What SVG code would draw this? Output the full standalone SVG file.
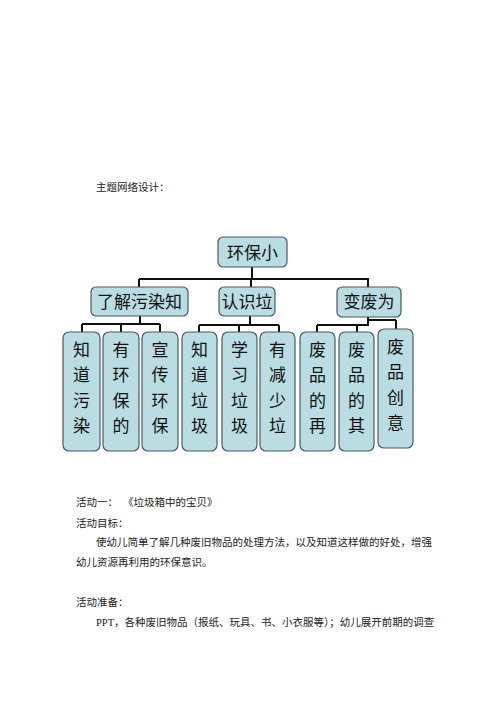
<svg xmlns="http://www.w3.org/2000/svg" width="500" height="707" viewBox="0 0 500 707">
<style>
.bg{fill:#ffffff}
.box{fill:#b9dde2;stroke:#4d5a5e;stroke-width:1.2}
.nt{font-family:"Noto Sans CJK SC","Noto Sans",sans-serif;font-size:17px;fill:#111;text-anchor:middle}
.vt{font-family:"Noto Sans CJK SC","Noto Sans",sans-serif;font-size:17px;fill:#111;text-anchor:middle}
.conn{fill:none;stroke:#111;stroke-width:2}
.body{font-family:"Liberation Serif","Noto Sans CJK SC",serif;font-size:10.5px;fill:#222}
</style>
<rect class="bg" x="0" y="0" width="500" height="707"/>
<text class="body" x="96" y="191">主题网络设计：</text>

<g id="connectors">
<path class="conn" d="M252,267 V279 M139,279 H369 M139,279 V287 M251,279 V287 M368,279 V287"/>
<path class="conn" d="M140,316 V324 M82,324 H160 M82,324 V332 M121,324 V332 M160,324 V332"/>
<path class="conn" d="M250,316 V325 M199,325 H279 M199,325 V332 M239,325 V332 M279,325 V332"/>
<path class="conn" d="M368,317 V325 M317,325 H369 M317,325 V332 M357,325 V332 M368,320 H396 M396,320 V329"/>
</g>

<g id="n-root"><rect class="box" x="218" y="237" width="69" height="30" rx="5"/><text class="nt" x="252.5" y="259">环保小</text></g>
<g id="n-a"><rect class="box" x="91" y="287" width="97" height="29" rx="5"/><text class="nt" x="139.5" y="308">了解污染知</text></g>
<g id="n-b"><rect class="box" x="219" y="287" width="56" height="29" rx="5"/><text class="nt" x="247" y="308">认识垃</text></g>
<g id="n-c"><rect class="box" x="337" y="287" width="64" height="30" rx="5"/><text class="nt" x="369" y="308">变废为</text></g>

<g id="n-a1"><rect class="box" x="63" y="332" width="37" height="119" rx="6"/>
<text class="vt" x="81.5" y="356">知</text><text class="vt" x="81.5" y="381">道</text><text class="vt" x="81.5" y="407">污</text><text class="vt" x="81.5" y="432">染</text></g>
<g id="n-a2"><rect class="box" x="103" y="332" width="36" height="119" rx="6"/>
<text class="vt" x="121" y="356">有</text><text class="vt" x="121" y="381">环</text><text class="vt" x="121" y="407">保</text><text class="vt" x="121" y="432">的</text></g>
<g id="n-a3"><rect class="box" x="142" y="332" width="36" height="119" rx="6"/>
<text class="vt" x="160" y="356">宣</text><text class="vt" x="160" y="381">传</text><text class="vt" x="160" y="407">环</text><text class="vt" x="160" y="432">保</text></g>
<g id="n-b1"><rect class="box" x="182" y="332" width="35" height="119" rx="6"/>
<text class="vt" x="199.5" y="356">知</text><text class="vt" x="199.5" y="381">道</text><text class="vt" x="199.5" y="407">垃</text><text class="vt" x="199.5" y="432">圾</text></g>
<g id="n-b2"><rect class="box" x="222" y="332" width="35" height="119" rx="6"/>
<text class="vt" x="239.5" y="356">学</text><text class="vt" x="239.5" y="381">习</text><text class="vt" x="239.5" y="407">垃</text><text class="vt" x="239.5" y="432">圾</text></g>
<g id="n-b3"><rect class="box" x="260" y="332" width="35" height="119" rx="6"/>
<text class="vt" x="277.5" y="356">有</text><text class="vt" x="277.5" y="381">减</text><text class="vt" x="277.5" y="407">少</text><text class="vt" x="277.5" y="432">垃</text></g>
<g id="n-c1"><rect class="box" x="300" y="332" width="35" height="119" rx="6"/>
<text class="vt" x="317.5" y="356">废</text><text class="vt" x="317.5" y="381">品</text><text class="vt" x="317.5" y="407">的</text><text class="vt" x="317.5" y="432">再</text></g>
<g id="n-c2"><rect class="box" x="339" y="332" width="35" height="119" rx="6"/>
<text class="vt" x="356.5" y="356">废</text><text class="vt" x="356.5" y="381">品</text><text class="vt" x="356.5" y="407">的</text><text class="vt" x="356.5" y="432">其</text></g>
<g id="n-c3"><rect class="box" x="378" y="329" width="35" height="119" rx="6"/>
<text class="vt" x="395.5" y="353">废</text><text class="vt" x="395.5" y="378">品</text><text class="vt" x="395.5" y="404">创</text><text class="vt" x="395.5" y="429">意</text></g>

<text class="body" x="76" y="506">活动一：</text>
<text class="body" x="123" y="506">《垃圾箱中的宝贝》</text>
<text class="body" x="76" y="527">活动目标：</text>
<text class="body" x="96" y="546">使幼儿简单了解几种废旧物品的处理方法，以及知道这样做的好处，增强</text>
<text class="body" x="76" y="566">幼儿资源再利用的环保意识。</text>
<text class="body" x="76" y="606">活动准备：</text>
<text class="body" x="96" y="626">PPT，各种废旧物品（报纸、玩具、书、小衣服等）；幼儿展开前期的调查</text>
</svg>
